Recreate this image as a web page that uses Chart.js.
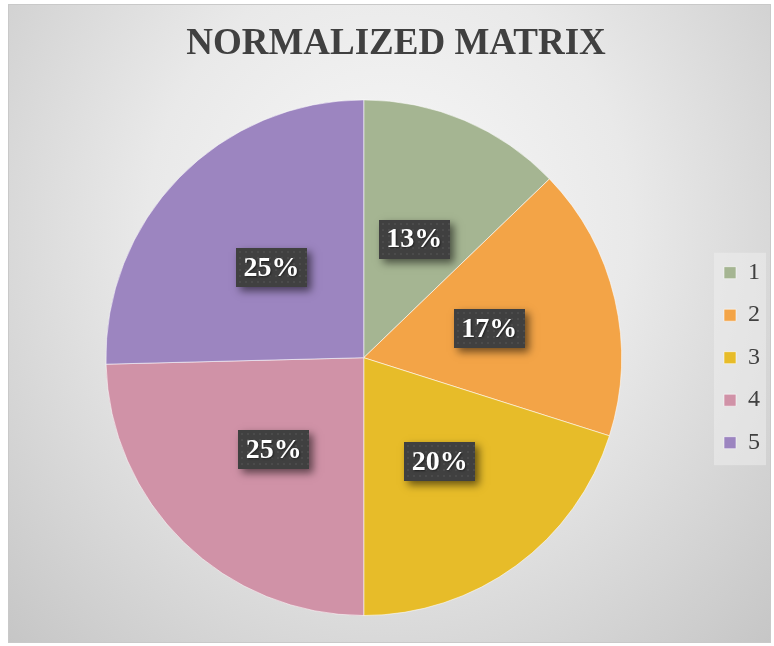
<!DOCTYPE html>
<html>
<head>
<meta charset="utf-8">
<script src="https://cdn.jsdelivr.net/npm/chart.js@4.4.1/dist/chart.umd.min.js"></script>
<style>
  html, body { margin: 0; padding: 0; background: #fff; }
  #frame {
    position: absolute; left: 8px; top: 4px; width: 761px; height: 637px;
    border: 1px solid #c9c9c9;
    background: radial-gradient(ellipse at 50% 35%, #f8f8f8 0%, #e9e9e9 45%, #c6c6c6 100%);
  }
  #frame canvas { display: block; }
</style>
</head>
<body>
<div id="frame"><canvas id="chart" width="761" height="637"></canvas></div>
<script>
// Chart data
const categories = ['1', '2', '3', '4', '5'];
const shares = [12.8, 17.1, 20.1, 24.6, 25.4];
const sliceColors = ['#A5B592', '#F3A447', '#E7BC29', '#D092A7', '#9C85C0'];

const serif = '"Liberation Serif", "Times New Roman", serif';

// Light panel behind the legend
const legendPanel = {
    id: 'legendPanel',
    beforeDraw(chart) {
        const lg = chart.legend;
        if (!lg || !lg.columnSizes) return;
        const pad = lg.options.labels.padding;
        const colH = lg.columnSizes[0].height;
        const startY = (lg.top + pad + lg.bottom - colH) / 2;
        const ctx = chart.ctx;
        ctx.save();
        ctx.fillStyle = 'rgba(240,240,240,0.5)';
        ctx.fillRect(lg.left + pad - 10, startY - 8, 52, colH);
        ctx.restore();
    }
};

// Dark percentage boxes in the middle of each slice
const sliceLabels = {
    id: 'sliceLabels',
    afterDatasetsDraw(chart) {
        const ctx = chart.ctx;
        const total = shares.reduce((a, b) => a + b, 0);
        const w = 71, h = 39;
        chart.getDatasetMeta(0).data.forEach((arc, i) => {
            const {x, y} = arc.getCenterPoint();
            const bx = Math.round(x - w / 2), by = Math.round(y - h / 2);
            ctx.save();
            ctx.shadowColor = 'rgba(0,0,0,0.55)';
            ctx.shadowBlur = 8;
            ctx.shadowOffsetX = 4;
            ctx.shadowOffsetY = 4;
            ctx.fillStyle = '#404040';
            ctx.fillRect(bx, by, w, h);
            ctx.restore();
            // dotted texture
            ctx.save();
            ctx.fillStyle = 'rgba(255,255,255,0.06)';
            for (let dx = 3; dx < w; dx += 6) {
                for (let dy = 3; dy < h; dy += 6) {
                    ctx.fillRect(bx + dx, by + dy, 2, 2);
                }
            }
            ctx.restore();
            ctx.save();
            ctx.fillStyle = '#ffffff';
            ctx.font = 'bold 28px ' + serif;
            ctx.textAlign = 'center';
            ctx.textBaseline = 'middle';
            ctx.shadowColor = 'rgba(0,0,0,0.5)';
            ctx.shadowBlur = 2;
            ctx.shadowOffsetX = 1;
            ctx.shadowOffsetY = 1;
            ctx.fillText(Math.round(shares[i] / total * 100) + '%', x, y + 1);
            ctx.restore();
        });
    }
};

const data = {
    labels: categories,
    datasets: [{
        data: shares,
        backgroundColor: sliceColors,
        borderColor: 'rgba(255,255,255,0.55)',
        borderWidth: 1
    }]
};

const config = {
    type: 'pie',
    data: data,
    options: {
        responsive: false,
        animation: false,
        layout: {
            padding: {left: 13, right: 0, top: 0, bottom: 26}
        },
        plugins: {
            title: {
                display: true,
                text: 'NORMALIZED MATRIX',
                color: '#404040',
                font: {family: serif, size: 37, weight: 'bold', lineHeight: 1.2},
                padding: {top: 17, bottom: 33}
            },
            legend: {
                position: 'right',
                fullSize: false,
                labels: {
                    boxWidth: 12,
                    boxHeight: 12,
                    padding: 18.5,
                    color: '#404040',
                    font: {family: serif, size: 24}
                }
            },
            tooltip: {enabled: false}
        }
    },
    plugins: [legendPanel, sliceLabels]
};

new Chart(document.getElementById('chart'), config);
</script>
</body>
</html>
